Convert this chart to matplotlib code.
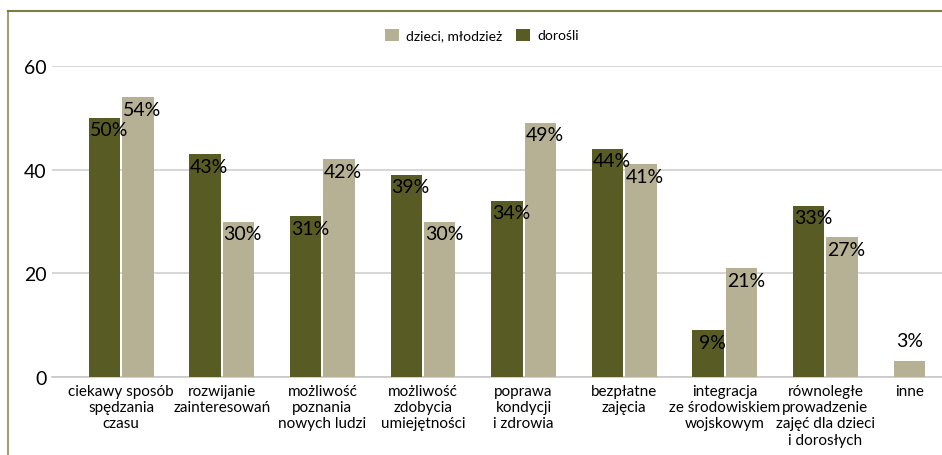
import matplotlib.pyplot as plt
import numpy as np
from matplotlib.lines import Line2D

plt.rcParams['font.family'] = ['Lato', 'DejaVu Sans']

categories = ["ciekawy sposób\nspędzania\nczasu", "rozwijanie\nzainteresowań",
              "możliwość\npoznania\nnowych ludzi", "możliwość\nzdobycia\numiejętności",
              "poprawa\nkondycji\ni zdrowia", "bezpłatne\nzajęcia",
              "integracja\nze środowiskiem\nwojskowym", "równoległe\nprowadzenie\nzajęć dla dzieci\ni dorosłych",
              "inne"]
dorosli = [50, 43, 31, 39, 34, 44, 9, 33, None]   # brak słupka dla "inne"
dzieci = [54, 30, 42, 30, 49, 41, 21, 27, 3]

dark = "#585b23"
light = "#b6b194"

W, H = 942, 456
fig = plt.figure(figsize=(W / 100, H / 100), dpi=100)
ax = fig.add_axes([52 / W, (H - 378) / H, 1 - 52 / W, (378 - 67) / H])

x = np.arange(len(categories))
bw = 0.313
off = bw / 2 + 0.01
has_ad = np.array([v is not None for v in dorosli])
# where there is no adult bar, the children bar takes the first slot
x_ad = x[has_ad] - off
x_ch = np.where(has_ad, x + off, x - off)
v_ad = [v for v in dorosli if v is not None]

b1 = ax.bar(x_ad, v_ad, bw, color=dark, label="dorośli", zorder=3)
b2 = ax.bar(x_ch, dzieci, bw, color=light, label="dzieci, młodzież", zorder=3)

for bars, vals in ((b1, v_ad), (b2, dzieci)):
    for r, v in zip(bars, vals):
        cx = r.get_x() + r.get_width() / 2
        if v < 5:
            ax.annotate(f"{v}%", (cx, v), xytext=(0, 9),
                        textcoords="offset points", ha="center", va="bottom", fontsize=14, zorder=4)
        else:
            ax.annotate(f"{v}%", (cx, v), xytext=(3, -2.5),
                        textcoords="offset points", ha="center", va="top", fontsize=14, zorder=4)

ax.set_ylim(0, 60)
ax.set_xlim((52 - 121.2) / 100.6, (942 - 121.2) / 100.6)
ax.set_yticks([0, 20, 40, 60])
ax.yaxis.grid(True, color="#d0d0d0", linewidth=1.2, zorder=0)
ax.set_xticks(np.where(has_ad, x, x - off))
ax.set_xticklabels(categories, fontsize=11, linespacing=1.2)
ax.tick_params(axis="x", length=0, pad=5)
ax.tick_params(axis="y", length=0, labelsize=14, pad=4)
for s in ("top", "right", "left"):
    ax.spines[s].set_visible(False)
ax.spines["bottom"].set_color("#c8c8c8")
ax.spines["bottom"].set_linewidth(1.2)

h, l = ax.get_legend_handles_labels()
fig.legend(h[::-1], l[::-1], loc="center", bbox_to_anchor=(482 / W, 1 - 36 / H), ncol=2,
           frameon=False, fontsize=10, handlelength=1.0, handleheight=1.0,
           columnspacing=1.0, handletextpad=0.5)

fig.add_artist(Line2D([7.5 / W, 7.5 / W], [0, 1 - 12 / H], color="#a0a078", lw=1.5))
fig.add_artist(Line2D([7.5 / W, 1], [1 - 12 / H, 1 - 12 / H], color="#7c7c40", lw=1.5))

fig.savefig("out.png", dpi=100)
